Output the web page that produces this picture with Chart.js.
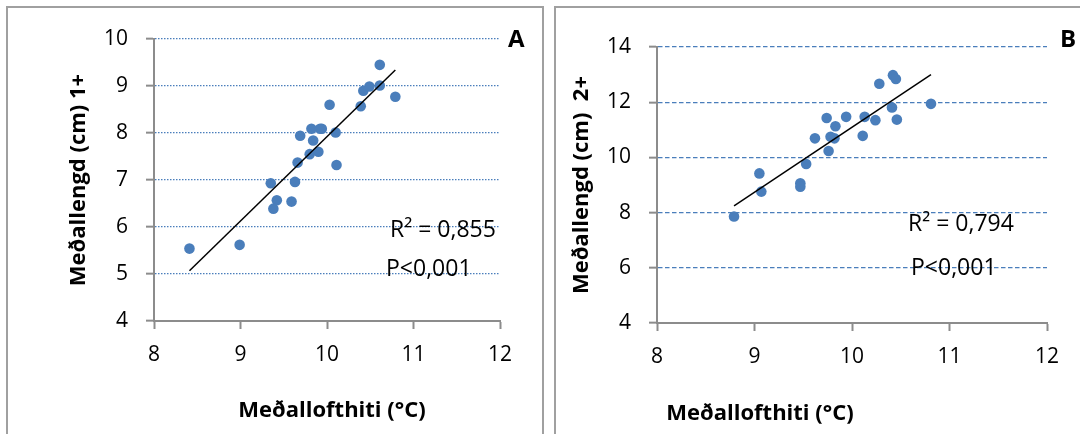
<!DOCTYPE html>
<html>
<head>
<meta charset="utf-8">
<script src="https://cdn.jsdelivr.net/npm/chart.js@4.4.1/dist/chart.umd.min.js"></script>
<style>
  html, body { margin: 0; padding: 0; background: #fff; }
  #wrap { position: relative; width: 1080px; height: 434px; overflow: hidden; }
  .frame { position: absolute; box-sizing: border-box; border: 2px solid #a0a0a0; }
  #frameA { left: 6px; top: 6px; width: 538px; height: 470px; }
  #frameB { left: 554px; top: 6px; width: 580px; height: 470px; }
  #boxA { position: absolute; left: 0; top: 0; width: 548px; height: 434px; }
  #boxB { position: absolute; left: 548px; top: 0; width: 532px; height: 434px; }
</style>
</head>
<body>
<div id="wrap">
  <div class="frame" id="frameA"></div>
  <div class="frame" id="frameB"></div>
  <div id="boxA"><canvas id="chartA"></canvas></div>
  <div id="boxB"><canvas id="chartB"></canvas></div>
</div>
<script>
  // panel A - 1+ fish: mean air temperature vs mean length
  const tempA = [8.41, 8.99, 9.35, 9.42, 9.38, 9.59, 9.63, 9.66, 9.69, 9.80, 9.84, 9.82,
                 9.90, 9.92, 9.94, 10.03, 10.10, 10.11, 10.39, 10.42, 10.49, 10.61, 10.61, 10.79];
  const lenA = [5.54, 5.62, 6.93, 6.57, 6.39, 6.54, 6.96, 7.37, 7.94, 7.55, 7.84, 8.09,
                7.60, 8.09, 8.09, 8.60, 8.01, 7.32, 8.57, 8.90, 8.99, 9.01, 9.45, 8.77];
  const trendTempA = [8.41, 10.79];
  const trendLenA = [5.07, 9.34];

  // panel B - 2+ fish
  const tempB = [8.79, 9.05, 9.07, 9.47, 9.47, 9.53, 9.62, 9.74, 9.76, 9.78, 9.82,
                 9.83, 9.94, 10.11, 10.13, 10.24, 10.28, 10.41, 10.42, 10.45, 10.46, 10.81];
  const lenB = [7.86, 9.42, 8.76, 9.06, 8.94, 9.76, 10.69, 11.43, 10.23, 10.75, 10.69,
                11.13, 11.47, 10.78, 11.47, 11.35, 12.67, 11.81, 12.98, 12.84, 11.37, 11.94];
  const trendTempB = [8.79, 10.81];
  const trendLenB = [8.24, 13.0];

  // axis ranges (tick labels)
  const xTicks = [8, 9, 10, 11, 12];
  const yTicksA = [4, 5, 6, 7, 8, 9, 10];
  const yTicksB = [4, 6, 8, 10, 12, 14];

  const blue = '#4a7ebb';
  const grey = '#8c8c8c';
  const tickFont = { family: 'Open Sans', size: 21 };
  const titleFont = { family: 'Open Sans', size: 22, weight: 'bold' };

  function pts(xs, ys) {
    return xs.map((x, i) => ({ x: x, y: ys[i] }));
  }

  //    text that excel puts on top of the plot
  function notes(items) {
    return {
      id: 'notes',
      afterDraw(chart) {
        const ctx = chart.ctx;
        ctx.save();
        ctx.fillStyle = '#000';
        ctx.textBaseline = 'alphabetic';
        items.forEach(it => {
          ctx.font = it.font;
          ctx.textAlign = it.align || 'left';
          ctx.fillText(it.text, it.x, it.y);
        });
        ctx.restore();
      }
    };
  }

  function scatterChart(id, o) {
    const yMin = o.yTicks[0];
    return new Chart(document.getElementById(id), {
      type: 'scatter',
      data: {
        datasets: [{
          data: pts(o.trendX, o.trendY),
          showLine: true,
          borderColor: '#000',
          borderWidth: 1.5,
          pointRadius: 0,
          order: 0
        }, {
          data: pts(o.x, o.y),
          backgroundColor: blue,
          borderWidth: 0,
          pointRadius: 5.3,
          order: 1
        }]
      },
      options: {
        responsive: true,
        maintainAspectRatio: false,
        animation: false,
        events: [],
        layout: { padding: { top: o.top, right: o.right, left: 0, bottom: 0 } },
        plugins: {
          legend: { display: false },
          tooltip: { enabled: false }
        },
        scales: {
          x: {
            type: 'linear',
            min: xTicks[0],
            max: xTicks[xTicks.length - 1],
            ticks: { stepSize: 1, padding: 13, color: '#000', font: tickFont, maxRotation: 0 },
            grid: { drawOnChartArea: false, drawTicks: true, tickLength: 8, tickColor: grey, tickWidth: 2 },
            border: { color: grey, width: 2 },
            afterFit: s => { s.height = o.xh; }
          },
          y: {
            min: yMin,
            max: o.yTicks[o.yTicks.length - 1],
            ticks: { stepSize: o.yTicks[1] - o.yTicks[0], padding: 18, color: '#000', font: tickFont },
            grid: {
              color: c => (c.tick && c.tick.value === yMin) ? 'rgba(0,0,0,0)' : blue,
              lineWidth: 1.3,
              tickLength: 8,
              tickColor: grey,
              tickWidth: 2,
              tickBorderDash: []
            },
            border: { color: grey, width: 2, dash: o.dash },
            title: { display: true, text: o.yTitle, color: '#000', font: titleFont, padding: { top: o.yTitlePad, bottom: 0 } },
            afterFit: s => { s.width = o.yw; }
          }
        }
      },
      plugins: [notes(o.notes)]
    });
  }

  scatterChart('chartA', {
    x: tempA, y: lenA, trendX: trendTempA, trendY: trendLenA,
    yTicks: yTicksA, dash: [1.5, 1.5],
    top: 39, right: 48, yw: 154, xh: 113, yTitlePad: 66,
    yTitle: 'Meðallengd (cm) 1+',
    notes: [
      { text: 'R² = 0,855', x: 390, y: 237, font: '23px "Open Sans"' },
      { text: 'P<0,001', x: 386, y: 276, font: '23px "Open Sans"' },
      { text: 'A', x: 508, y: 47, font: 'bold 24px "Open Sans"' },
      { text: 'Meðallofthiti (°C)', x: 332, y: 417, font: 'bold 22px "Open Sans"', align: 'center' }
    ]
  });

  scatterChart('chartB', {
    x: tempB, y: lenB, trendX: trendTempB, trendY: trendLenB,
    yTicks: yTicksB, dash: [4.5, 2.5],
    top: 47, right: 33, yw: 109, xh: 111, yTitlePad: 21,
    yTitle: 'Meðallengd (cm)  2+',
    notes: [
      { text: 'R² = 0,794', x: 360, y: 231, font: '23px "Open Sans"' },
      { text: 'P<0,001', x: 363, y: 275, font: '23px "Open Sans"' },
      { text: 'B', x: 512, y: 47, font: 'bold 24px "Open Sans"' },
      { text: 'Meðallofthiti (°C)', x: 212, y: 420, font: 'bold 22px "Open Sans"', align: 'center' }
    ]
  });
</script>
</body>
</html>
